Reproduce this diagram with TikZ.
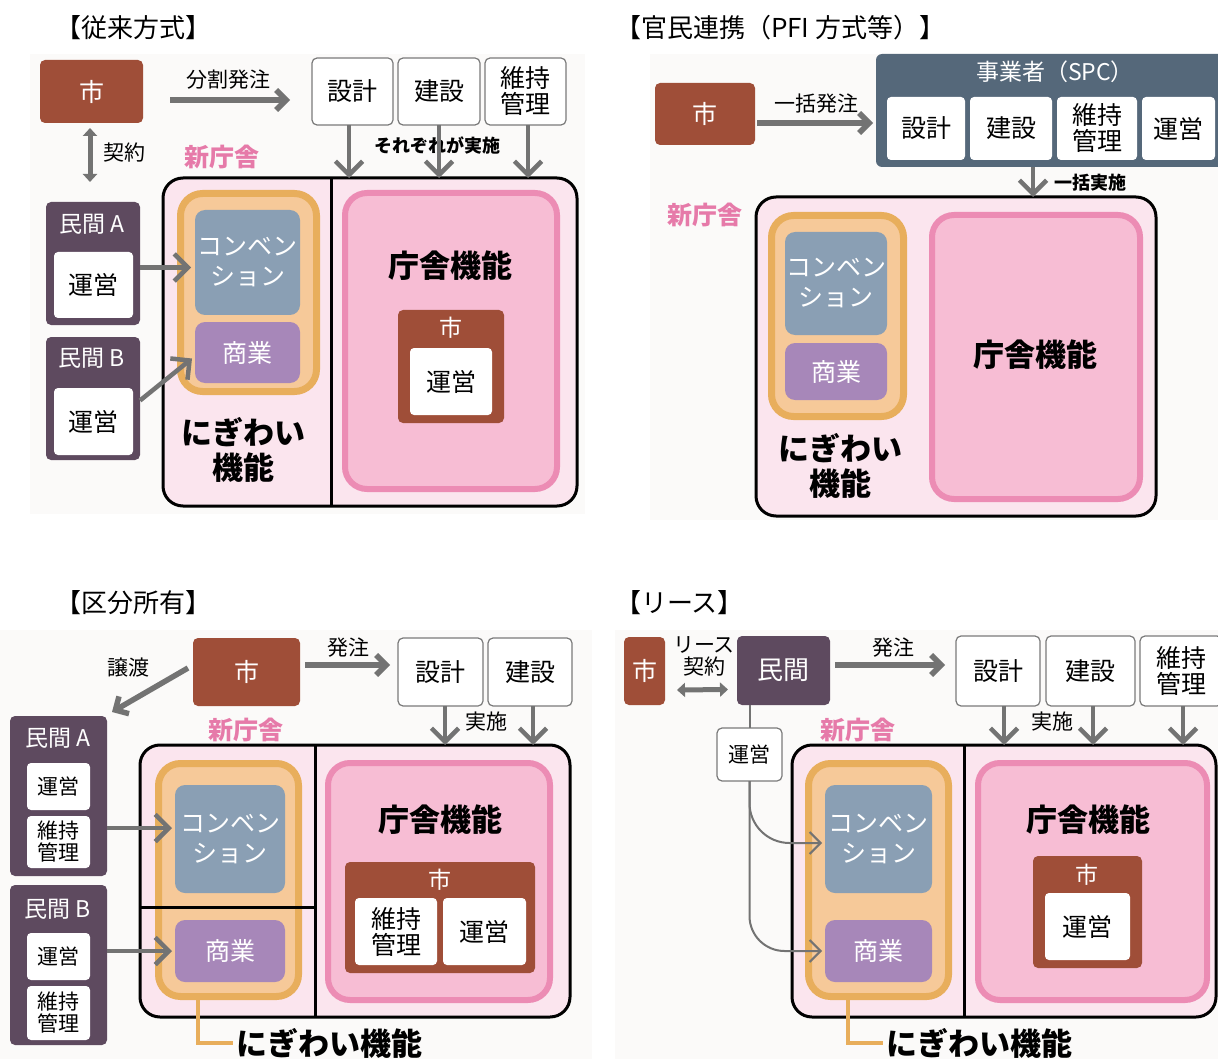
\documentclass[tikz,border=0pt]{standalone}
\usepackage{fontspec}
\setmainfont{Noto Sans CJK JP}
\usetikzlibrary{arrows.meta,calc}
\newcommand\fsz[2]{\fontsize{#1}{#2}\selectfont}
\definecolor{cbrown}{HTML}{9F4E38}
\definecolor{cpurple}{HTML}{5E4A5F}
\definecolor{cslate}{HTML}{55687A}
\definecolor{cconv}{HTML}{8A9FB4}
\definecolor{cshogyo}{HTML}{A787B9}
\definecolor{corange}{HTML}{E8AE5C}
\definecolor{corangel}{HTML}{F6C999}
\definecolor{cpinkb}{HTML}{EC8CB4}
\definecolor{cpinkf}{HTML}{F7BDD4}
\definecolor{cbig}{HTML}{FBE5EE}
\definecolor{cpinkt}{HTML}{E67AA9}
\definecolor{carrow}{HTML}{737373}
\definecolor{cwb}{HTML}{7A7A7A}
\definecolor{cbg}{HTML}{FBFAF9}
\begin{document}
\begin{tikzpicture}[x=1pt,y=-1pt,
 every node/.style={inner sep=0pt,outer sep=0pt,align=center},
 wh/.style 2 args={minimum width=#1pt,minimum height=#2pt},
 panelbg/.style={fill=cbg,draw=none},
 shibox/.style={fill=cbrown,rounded corners=5pt,text=white},
 minbox/.style={fill=cpurple,rounded corners=5pt,text=white},
 spcbox/.style={fill=cslate,rounded corners=6pt,text=white},
 wbox/.style={fill=white,draw=cwb,line width=1.2pt,rounded corners=5pt,text=black},
 winner/.style={fill=white,rounded corners=4pt,text=black},
 bigbox/.style={draw=black,line width=3pt,fill=cbig,rounded corners=20pt},
 orangebox/.style={draw=corange,line width=7pt,fill=corangel,rounded corners=22pt},
 pinkbox/.style={draw=cpinkb,line width=6pt,fill=cpinkf,rounded corners=22pt},
 convbox/.style={fill=cconv,rounded corners=10pt,text=white},
 shobox/.style={fill=cshogyo,rounded corners=10pt,text=white},
 bigarrow/.style={draw=carrow,line width=5.5pt,-{Straight Barb[scale=0.8]}},
 dblarrow/.style={draw=carrow,line width=5pt,{Triangle[length=8pt,width=14pt]}-{Triangle[length=8pt,width=14pt]}},
 downarrow/.style={draw=carrow,line width=4.5pt,-{Straight Barb[scale=1.3]}},
 thinarrow/.style={draw=carrow,line width=2pt,-{Straight Barb[scale=2]}},
 thinline/.style={draw=carrow,line width=2pt},
 pinklabel/.style={text=cpinkt,font=\bfseries\fsz{25}{27}},
 divline/.style={draw=black,line width=3pt},
 leader/.style={draw=corange,line width=4pt},
 title/.style={font=\fsz{26}{28}},
 lbl/.style={font=\fsz{21}{23}},
 blbl/.style={font=\bfseries\fsz{18}{20}},
 big/.style={font=\bfseries\fsz{31}{35}},
 t24/.style={font=\fsz{25}{26}},
 t22/.style={font=\fsz{23}{24}},
 t20/.style={font=\fsz{21}{22}},
 conv/.style={font=\fsz{25}{30}},
]
\useasboundingbox (0,0) rectangle (1218,1059);
\clip (0,0) rectangle (1218,1059);

% ================= Panel 1 =================
\fill[panelbg] (30,54) rectangle (585,514);
\node[title] (title1) at (133,28) {【従来方式】};
\node[shibox,wh={103}{63},t24] (shi1) at (91.5,91.5) {市};
\node[wbox,wh={81}{67},t24] (sekkei1) at (352.5,91.5) {設計};
\node[wbox,wh={82}{67},t24] (kensetsu1) at (439,91.5) {建設};
\node[wbox,wh={81}{67},t24] (iji1) at (525.5,91.5) {維持\\管理};
\node[lbl] (bunkatsu1) at (228,80) {分割発注};
\node[lbl] (keiyaku1) at (124,153) {契約};
\node[pinklabel] (shin1) at (222,157) {新庁舎};
\node[blbl] (sorezore1) at (437,145) {それぞれが実施};

\node[bigbox,wh={414}{328}] (big1) at (370,342) {};
\draw[divline] ($(big1.north west)+(168,0)$) -- ($(big1.south west)+(168,0)$);
\node[orangebox,wh={136}{198}] (orange1) at (248.5,292.5) {};
\node[convbox,wh={105}{105},conv] (conv1) at (247.5,262.5) {コンベン\\ション};
\node[shobox,wh={105}{61},t24] (shogyo1) at (247.5,352.5) {商業};
\node[big] (nigiwai1) at (243,450) {にぎわい\\機能};
\node[pinkbox,wh={212}{296}] (pink1) at (451,341) {};
\node[big] (chosha1) at (450,266) {庁舎機能};
\node[shibox,wh={106}{113}] (shiin1) at (451,366.5) {};
\node[t22,text=white] (shiinlbl1) at (451,328) {市};
\node[winner,wh={82}{67},t24] (unei1) at (451,381.5) {運営};

\node[minbox,wh={94}{123}] (minA1) at (93,263.5) {};
\node[t22,text=white] (minAlbl1) at (92,224) {民間 A};
\node[winner,wh={79}{66},t24] (unA1) at (93.5,285) {運営};
\node[minbox,wh={94}{123}] (minB1) at (93,398.5) {};
\node[t22,text=white] (minBlbl1) at (92,358) {民間 B};
\node[winner,wh={79}{67},t24] (unB1) at (93.5,421.5) {運営};

\draw[bigarrow] ($(shi1.east)+(27,8.5)$) -- ($(sekkei1.west)+(-22,8.5)$);
\draw[dblarrow] ($(shi1.south)+(-1.5,5)$) -- ($(minA1.north)+(-3,-20)$);
\draw[downarrow] ($(sekkei1.south)+(-3.5,0)$) -- ($(sekkei1.south |- big1.north)+(-3.5,0)$);
\draw[downarrow] (kensetsu1.south) -- (kensetsu1.south |- big1.north);
\draw[downarrow] ($(iji1.south)+(2.5,0)$) -- ($(iji1.south |- big1.north)+(2.5,0)$);
\draw[downarrow] ($(minA1.east)+(0,4)$) -- ($(minA1.east -| conv1.west)+(-4,4)$);
\draw[downarrow] ($(minB1.east)+(0,2)$) -- ($(shogyo1.west)+(-3,6)$);

% ================= Panel 2 =================
\fill[panelbg] (650,54) rectangle (1218,520);
\node[title,anchor=west] (title2) at (615,28) {【官民連携（PFI 方式等）】};
\node[shibox,wh={100}{62},t24] (shi2) at (705,114) {市};
\node[spcbox,wh={352}{113}] (spc) at (1052,110.5) {};
\node[t22,text=white] (spclbl) at (1055,72) {事業者（SPC）};
\node[winner,wh={78}{63},t24] (sekkei2) at (926,128.5) {設計};
\node[winner,wh={82}{63},t24] (kensetsu2) at (1011,128.5) {建設};
\node[winner,wh={80}{63},t24] (iji2) at (1097,128.5) {維持\\管理};
\node[winner,wh={73}{63},t24] (unei2) at (1178.5,128.5) {運営};
\node[lbl] (ikkatsu2) at (816,104) {一括発注};
\node[blbl] (ikkatsujisshi2) at (1090,183) {一括実施};
\node[pinklabel] (shin2) at (705,215) {新庁舎};

\node[bigbox,wh={400}{319}] (big2) at (956,356.5) {};
\node[orangebox,wh={132}{201}] (orange2) at (837.5,316) {};
\node[convbox,wh={102}{103},conv] (conv2) at (836,283.5) {コンベン\\ション};
\node[shobox,wh={102}{57},t24] (shogyo2) at (836,371.5) {商業};
\node[big] (nigiwai2) at (840,466) {にぎわい\\機能};
\node[pinkbox,wh={208}{284}] (pink2) at (1036,357) {};
\node[big] (chosha2) at (1035,355) {庁舎機能};

\draw[bigarrow] ($(shi2.east)+(2,9)$) -- ($(spc.west |- shi2.east)+(-3,9)$);
\draw[downarrow] ($(spc.south)+(-19,0)$) -- ($(spc.south |- big2.north)+(-19,0)$);

% ================= Panel 3 =================
\fill[panelbg] (0,630) rectangle (592,1059);
\node[title] (title3) at (133,603) {【区分所有】};
\node[shibox,wh={107}{68},t24] (shi3) at (246.5,672) {市};
\node[wbox,wh={85}{68},t24] (sekkei3) at (440.5,672) {設計};
\node[wbox,wh={84}{68},t24] (kensetsu3) at (530,672) {建設};
\node[lbl] (joto3) at (128,668) {譲渡};
\node[lbl] (hatchu3) at (348,648) {発注};
\node[lbl] (jisshi3) at (486,722) {実施};
\node[pinklabel] (shin3) at (246,730) {新庁舎};

\node[bigbox,wh={430}{272}] (big3) at (355,881) {};
\node[orangebox,wh={140}{233}] (orange3) at (228.5,880) {};
\draw[divline] ($(big3.north west)+(175,0)$) -- ($(big3.south west)+(175,0)$);
\draw[divline] ($(big3.north west)+(0,162)$) -- ($(big3.north west)+(175,162)$);
\node[convbox,wh={110}{108},conv] (conv3) at (230,839) {コンベン\\ション};
\node[shobox,wh={110}{62},t24] (shogyo3) at (230,951) {商業};
\node[pinkbox,wh={222}{237}] (pink3) at (439,881.5) {};
\node[big] (chosha3) at (440,820) {庁舎機能};
\node[shibox,wh={190}{111}] (shiin3) at (440,917.5) {};
\node[t22,text=white] (shiinlbl3) at (440,880) {市};
\node[winner,wh={82}{67},t24] (iji3) at (396,931.5) {維持\\管理};
\node[winner,wh={83}{67},t24] (unei3) at (484.5,931.5) {運営};
\node[big,anchor=west] (nigiwai3) at (236,1043) {にぎわい機能};
\draw[leader] ($(orange3.south)+(-30.5,3.5)$) |- ($(nigiwai3.west)+(-3,0)$);

\node[minbox,wh={97}{160}] (minA3) at (58.5,796) {};
\node[t22,text=white] (minAlbl3) at (58,738) {民間 A};
\node[winner,wh={63}{47},t20] (unA3) at (58.5,786.5) {運営};
\node[winner,wh={63}{52},t20] (ijiA3) at (58.5,842) {維持\\管理};
\node[minbox,wh={97}{160}] (minB3) at (58.5,965) {};
\node[t22,text=white] (minBlbl3) at (58,909) {民間 B};
\node[winner,wh={63}{47},t20] (unB3) at (58.5,956.5) {運営};
\node[winner,wh={63}{54},t20] (ijiB3) at (58.5,1013) {維持\\管理};

\draw[bigarrow] ($(shi3.west)+(-5,-4)$) -- ($(minA3.north east)+(5,-4)$);
\draw[bigarrow] ($(shi3.east)+(5,-7)$) -- ($(sekkei3.west)+(-8,-7)$);
\draw[downarrow] ($(sekkei3.south)+(4.5,0)$) -- ($(sekkei3.south |- big3.north)+(4.5,0)$);
\draw[downarrow] ($(kensetsu3.south)+(3,0)$) -- ($(kensetsu3.south |- big3.north)+(3,0)$);
\draw[downarrow] ($(minA3.east)+(0,32)$) -- ($(minA3.east -| conv3.west)+(-3,32)$);
\draw[downarrow] (minB3.east |- shogyo3.west) -- ($(shogyo3.west)+(-3,0)$);

% ================= Panel 4 =================
\fill[panelbg] (615,630) rectangle (1218,1059);
\node[title,anchor=west] (title4) at (615,603) {【リース】};
\node[shibox,wh={41}{68},t24] (shi4) at (644.5,671) {市};
\node[minbox,wh={93}{69},font=\fsz{26}{28}] (min4) at (783.5,670.5) {民間};
\node[lbl,font=\fsz{21}{22}] (lease4) at (704,656) {リース\\契約};
\node[wbox,wh={84}{70},t24] (sekkei4) at (998,671) {設計};
\node[wbox,wh={89}{70},t24] (kensetsu4) at (1090.5,671) {建設};
\node[wbox,wh={82}{70},t24] (iji4) at (1181,671) {維持\\管理};
\node[lbl] (hatchu4) at (893,648) {発注};
\node[lbl] (jisshi4) at (1052,722) {実施};
\node[pinklabel] (shin4) at (858,730) {新庁舎};
\node[wbox,wh={65}{53},font=\fsz{21}{22}] (unei4) at (749.5,754.5) {運営};

\node[bigbox,wh={424}{272}] (big4) at (1004,881) {};
\draw[divline] ($(big4.north west)+(172,0)$) -- ($(big4.south west)+(172,0)$);
\node[orangebox,wh={140}{233}] (orange4) at (878.5,880) {};
\node[convbox,wh={107}{108},conv] (conv4) at (878.5,839) {コンベン\\ション};
\node[shobox,wh={107}{62},t24] (shogyo4) at (878.5,951) {商業};
\node[pinkbox,wh={229}{237}] (pink4) at (1092.5,881.5) {};
\node[big] (chosha4) at (1088,820) {庁舎機能};
\node[shibox,wh={109}{112}] (shiin4) at (1087.5,912) {};
\node[t22,text=white] (shiinlbl4) at (1087,875) {市};
\node[winner,wh={85}{67},t24] (unei4in) at (1087.5,926.5) {運営};
\node[big,anchor=west] (nigiwai4) at (886,1043) {にぎわい機能};
\draw[leader] ($(orange4.south)+(-30.5,3.5)$) |- ($(nigiwai4.west)+(-3,0)$);

\draw[dblarrow] ($(shi4.east)+(12,19)$) -- ($(min4.west)+(-9,19)$);
\draw[bigarrow] ($(min4.east)+(5,-5.5)$) -- ($(sekkei4.west)+(-11,-6)$);
\draw[downarrow] ($(sekkei4.south)+(6,0)$) -- ($(sekkei4.south |- big4.north)+(6,0)$);
\draw[downarrow] ($(kensetsu4.south)+(2.5,0)$) -- ($(kensetsu4.south |- big4.north)+(2.5,0)$);
\draw[downarrow] ($(iji4.south)+(2,0)$) -- ($(iji4.south |- big4.north)+(2,0)$);
\draw[thinline] (unei4.north |- min4.south) -- (unei4.north);
\draw[thinarrow,rounded corners=40pt] (unei4.south) |- ($(conv4.west)+(-3,4)$);
\draw[thinarrow,rounded corners=35pt] (unei4.south) |- ($(shogyo4.west)+(-3,0)$);
\end{tikzpicture}
\end{document}
